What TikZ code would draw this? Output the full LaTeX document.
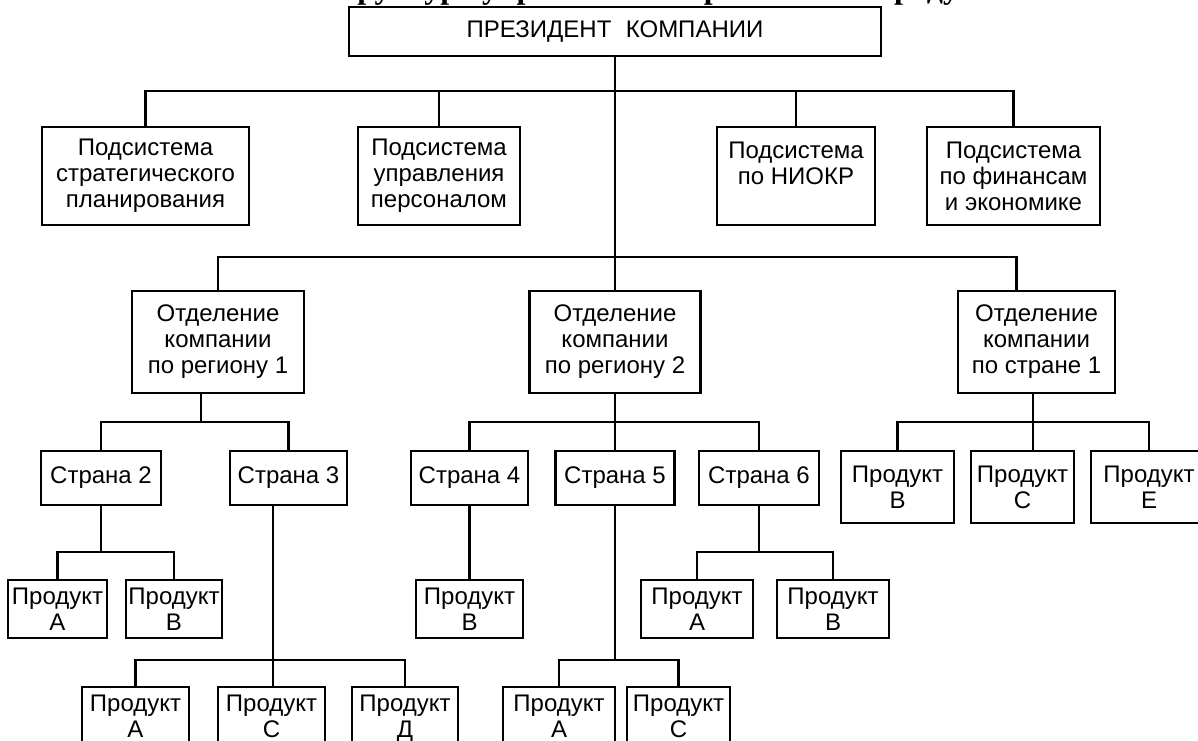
\documentclass[tikz,border=0pt]{standalone}
\usepackage{fontspec}
\setmainfont{Liberation Sans}
\newfontfamily\titlefont{Liberation Serif}
\newcommand\unitfont{\fontsize{24}{26}\selectfont}
\tikzset{
    unit/.style={draw, line width=2.6pt, rectangle, inner sep=0pt,
                 align=center, font=\unitfont},
    link/.style={-, line width=2.6pt},
}
\begin{document}
\begin{tikzpicture}[x=1pt, y=-1pt]
\useasboundingbox (0,0) rectangle (1198,740);
\fill[white] (0,0) rectangle (1198,740);
\clip (0,0) rectangle (1198,740);

% --- title, cut off by the top edge ---
\node[font=\titlefont\bfseries\fontsize{32}{32}\selectfont, anchor=base,
      inner sep=0pt] (title) at (675,-2)
    {Структура управления по регионам и продуктам};

% --- level 1 ---
\node[unit, minimum width=532pt, minimum height=49pt] (pres) at (615,31.5)
    {ПРЕЗИДЕНТ\hspace{0.6em}КОМПАНИИ};

% --- functional subsystems ---
\node[unit, minimum width=207pt, minimum height=98pt] (b1) at (145.5,176)
    {Подсистема\\стратегического\\планирования};
\node[unit, minimum width=162pt, minimum height=98pt] (b2) at (439,176)
    {Подсистема\\управления\\персоналом};
\node[unit, minimum width=158pt, minimum height=98pt] (b3) at (796,176)
    {Подсистема\\по НИОКР\\~};
\node[unit, minimum width=173pt, minimum height=98pt] (b4) at (1013.5,176)
    {Подсистема\\по финансам\\и экономике};

% --- divisions ---
\node[unit, minimum width=172pt, minimum height=102pt] (o1) at (218,342)
    {Отделение\\компании\\по региону 1};
\node[unit, minimum width=171pt, minimum height=102pt] (o2) at (615,342)
    {Отделение\\компании\\по региону 2};
\node[unit, minimum width=157pt, minimum height=102pt] (o3) at (1036.5,342)
    {Отделение\\компании\\по стране 1};

% --- countries ---
\node[unit, minimum width=120pt, minimum height=54pt] (s2) at (101,478) {Страна 2};
\node[unit, minimum width=117pt, minimum height=54pt] (s3) at (288.5,478) {Страна 3};
\node[unit, minimum width=117pt, minimum height=54pt] (s4) at (469.5,478) {Страна 4};
\node[unit, minimum width=119pt, minimum height=54pt] (s5) at (615,478) {Страна 5};
\node[unit, minimum width=120pt, minimum height=54pt] (s6) at (759,478) {Страна 6};

% --- products of country 1 ---
\node[unit, minimum width=113pt, minimum height=72pt] (o3-b) at (897.5,487) {Продукт\\В};
\node[unit, minimum width=103pt, minimum height=72pt] (o3-c) at (1022.5,487) {Продукт\\С};
\node[unit, minimum width=116pt, minimum height=72pt] (o3-e) at (1149,487) {Продукт\\Е};

% --- products, middle row ---
\node[unit, minimum width=99pt, minimum height=58pt] (s2-a) at (57.5,609) {Продукт\\А};
\node[unit, minimum width=96pt, minimum height=58pt] (s2-b) at (174,609) {Продукт\\В};
\node[unit, minimum width=107pt, minimum height=58pt] (s4-b) at (469.5,609) {Продукт\\В};
\node[unit, minimum width=112pt, minimum height=58pt] (s6-a) at (697,609) {Продукт\\А};
\node[unit, minimum width=112pt, minimum height=58pt] (s6-b) at (833,609) {Продукт\\В};

% --- products, bottom row ---
\node[unit, minimum width=107pt, minimum height=58pt] (s3-a) at (135.5,716) {Продукт\\А};
\node[unit, minimum width=107pt, minimum height=58pt] (s3-c) at (271.5,716) {Продукт\\С};
\node[unit, minimum width=106pt, minimum height=58pt] (s3-d) at (405,716) {Продукт\\\smash{Д}};
\node[unit, minimum width=112pt, minimum height=58pt] (s5-a) at (559,716) {Продукт\\А};
\node[unit, minimum width=103pt, minimum height=58pt] (s5-c) at (678.5,716) {Продукт\\С};

% --- bus points ---
\coordinate (bus1) at (615,91);
\coordinate (bus2) at (615,257);
\coordinate (o1-bus) at (201,422);
\coordinate (o2-bus) at (615,422);
\coordinate (o3-bus) at (1033,422);
\coordinate (s2-bus) at (101,552);
\coordinate (s6-bus) at (759,552);
\coordinate (s3-bus) at (273,660);
\coordinate (s5-bus) at (615,660);

% --- connectors ---
\draw[link] (pres.south) -- (o2.north);
\draw[link] (b1.north) |- (bus1);
\draw[link] (b2.north) |- (bus1);
\draw[link] (b3.north) |- (bus1);
\draw[link] (b4.north) |- (bus1);

\draw[link] (o1.north) |- (bus2);
\draw[link] ([xshift=-20pt]o3.north) |- (bus2);

\draw[link] (o1.south -| o1-bus) -- (o1-bus);
\draw[link] (s2.north) |- (o1-bus);
\draw[link] (s3.north) |- (o1-bus);

\draw[link] (o2.south) -- (s5.north);
\draw[link] (s4.north) |- (o2-bus);
\draw[link] (s6.north) |- (o2-bus);

\draw[link] (o3.south -| o3-bus) -- (o3-bus);
\draw[link] (o3-b.north) |- (o3-bus);
\draw[link] (o3-c.north -| o3-bus) -- (o3-bus);
\draw[link] (o3-e.north) |- (o3-bus);

\draw[link] (s2.south) -- (s2-bus);
\draw[link] (s2-a.north) |- (s2-bus);
\draw[link] (s2-b.north) |- (s2-bus);

\draw[link] (s4.south) -- (s4-b.north);

\draw[link] (s6.south) -- (s6-bus);
\draw[link] (s6-a.north) |- (s6-bus);
\draw[link] (s6-b.north) |- (s6-bus);

\draw[link] (s3.south -| s3-bus) -- (s3-bus);
\draw[link] (s3-a.north) |- (s3-bus);
\draw[link] (s3-c.north -| s3-bus) -- (s3-bus);
\draw[link] (s3-d.north) |- (s3-bus);

\draw[link] (s5.south) -- (s5-bus);
\draw[link] (s5-a.north) |- (s5-bus);
\draw[link] (s5-c.north) |- (s5-bus);
\end{tikzpicture}
\end{document}
